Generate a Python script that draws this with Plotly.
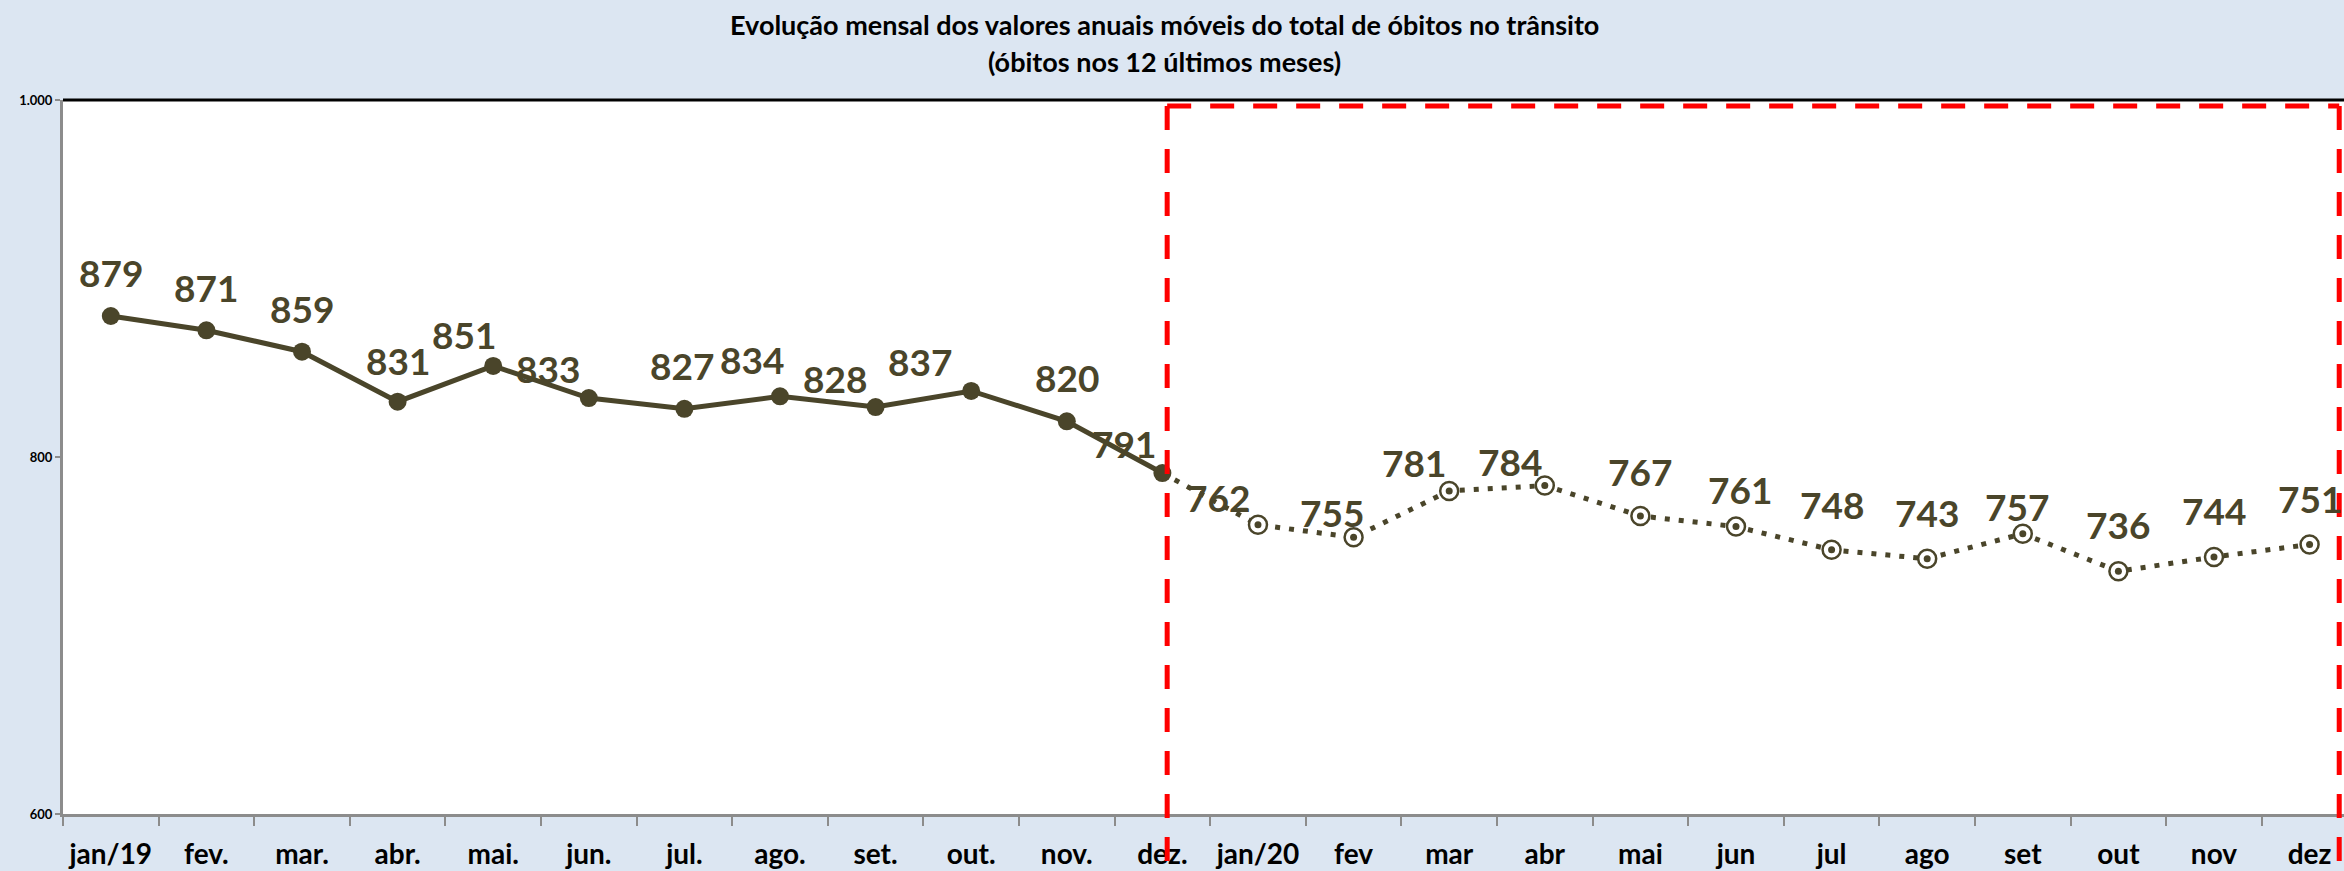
import plotly.graph_objects as go

# ---------------- data ----------------
months_2019 = ["jan/19", "fev.", "mar.", "abr.", "mai.", "jun.", "jul.", "ago.", "set.", "out.", "nov.", "dez."]
months_2020 = ["jan/20", "fev", "mar", "abr", "mai", "jun", "jul", "ago", "set", "out", "nov", "dez"]
obitos_2019 = [879, 871, 859, 831, 851, 833, 827, 834, 828, 837, 820, 791]
obitos_2020 = [762, 755, 781, 784, 767, 761, 748, 743, 757, 736, 744, 751]
y_tick_vals = [600, 800, 1000]
y_tick_text = ["600", "800", "1.000"]
title_line1 = "Evolução mensal dos valores anuais móveis do total de óbitos no trânsito"
title_line2 = "(óbitos nos 12 últimos meses)"

# label offsets (pixels, dx, dy-up) — styling only
offsets_2019 = [(0, 43), (0, 43), (0, 43), (0, 41), (-29, 31), (-41, 30),
                (-2, 43), (-28, 37), (-41, 29), (-51, 29), (0, 44), (-38, 30)]
offsets_2020 = [(-40, 27), (-22, 25), (-35, 28), (-35, 24), (0, 44), (4, 37),
                (0, 45), (0, 46), (-6, 27), (0, 47), (0, 46), (0, 46)]

OLIVE = "#4A452A"
BG = "#DCE6F2"
FONT = "Lato"

categories = months_2019 + months_2020
x1 = months_2019
x2 = [months_2019[-1]] + months_2020
y2 = [obitos_2019[-1]] + obitos_2020

W, H = 2344, 871
ML, MR, MT, MB = 63, 0, 100, 57
plot_h = H - MT - MB

fig = go.Figure()

# 2020 dotted line (starts at dez. 2019)
fig.add_trace(go.Scatter(x=x2, y=y2, mode="lines",
                         line=dict(color=OLIVE, width=5, dash="5px,9px"),
                         hoverinfo="skip", showlegend=False))
# 2020 ring markers
fig.add_trace(go.Scatter(x=months_2020, y=obitos_2020, mode="markers",
                         marker=dict(symbol="circle", size=18, color="white",
                                     line=dict(color=OLIVE, width=2.5)),
                         showlegend=False))
fig.add_trace(go.Scatter(x=months_2020, y=obitos_2020, mode="markers",
                         marker=dict(symbol="circle", size=7, color=OLIVE),
                         showlegend=False))
# 2019 solid line
fig.add_trace(go.Scatter(x=x1, y=obitos_2019, mode="lines+markers",
                         line=dict(color=OLIVE, width=5),
                         marker=dict(symbol="circle", size=18, color=OLIVE),
                         showlegend=False))

# data labels
for xs, ys, offs in ((months_2019, obitos_2019, offsets_2019),
                     (months_2020, obitos_2020, offsets_2020)):
    for xv, yv, (dx, dy) in zip(xs, ys, offs):
        fig.add_annotation(x=xv, y=yv, text=str(yv), showarrow=False,
                           xshift=dx, yshift=dy, xanchor="center", yanchor="middle",
                           font=dict(family=FONT, size=37, color=OLIVE, weight="bold"))

# titles (pixel centres converted to paper coords)
for txt, py in ((title_line1, 25), (title_line2, 62)):
    fig.add_annotation(x=0.483, y=1 + (MT - py) / plot_h, xref="paper", yref="paper",
                       text="<b>" + txt + "</b>", showarrow=False,
                       xanchor="center", yanchor="middle",
                       font=dict(family=FONT, size=27, color="black"))

ymin, ymax = 600, 1000
xr = [-0.5, 23.36]

# red dashed box around 2020
box_left = len(months_2019) - 1 + 0.05
box_right = len(categories) - 1 + 0.31
box_top = (996.6 - ymin) / (ymax - ymin)
box_bottom = -0.12
red = dict(color="#FF0000", width=5, dash="24px,19px")
fig.add_shape(type="line", xref="x", yref="paper", x0=box_left, x1=box_left,
              y0=box_top, y1=box_bottom, line=red, layer="above")
fig.add_shape(type="line", xref="x", yref="paper", x0=box_left, x1=box_right,
              y0=box_top, y1=box_top, line=red, layer="above")
fig.add_shape(type="line", xref="x", yref="paper", x0=box_right, x1=box_right,
              y0=box_top, y1=box_bottom, line=red, layer="above")
# black top border
fig.add_shape(type="line", xref="paper", yref="paper", x0=0, x1=1, y0=1, y1=1,
              line=dict(color="black", width=3), layer="above")

fig.update_layout(
    width=W, height=H,
    margin=dict(l=ML, r=MR, t=MT, b=MB, pad=0),
    paper_bgcolor=BG, plot_bgcolor="white",
    showlegend=False,
    xaxis=dict(type="category", categoryorder="array", categoryarray=categories,
               range=xr, tickson="boundaries", ticks="outside", ticklen=9,
               tickcolor="#8C8C8C", tickwidth=2, tickangle=0, ticklabelstandoff=13,
               showline=True, linecolor="#8C8C8C", linewidth=3,
               showgrid=False, zeroline=False,
               tickfont=dict(family=FONT, size=28, color="black", weight="bold")),
    yaxis=dict(range=[ymin, ymax], tickvals=y_tick_vals, ticktext=y_tick_text,
               ticks="outside", ticklen=5, tickcolor="#8C8C8C", tickwidth=2,
               showline=True, linecolor="#8C8C8C", linewidth=3,
               showgrid=False, zeroline=False,
               tickfont=dict(family=FONT, size=13, color="black", weight="bold")),
)

fig.write_html("out.html", config={"displayModeBar": False},
               post_script="document.body.style.margin='0';document.body.style.overflow='hidden';")
